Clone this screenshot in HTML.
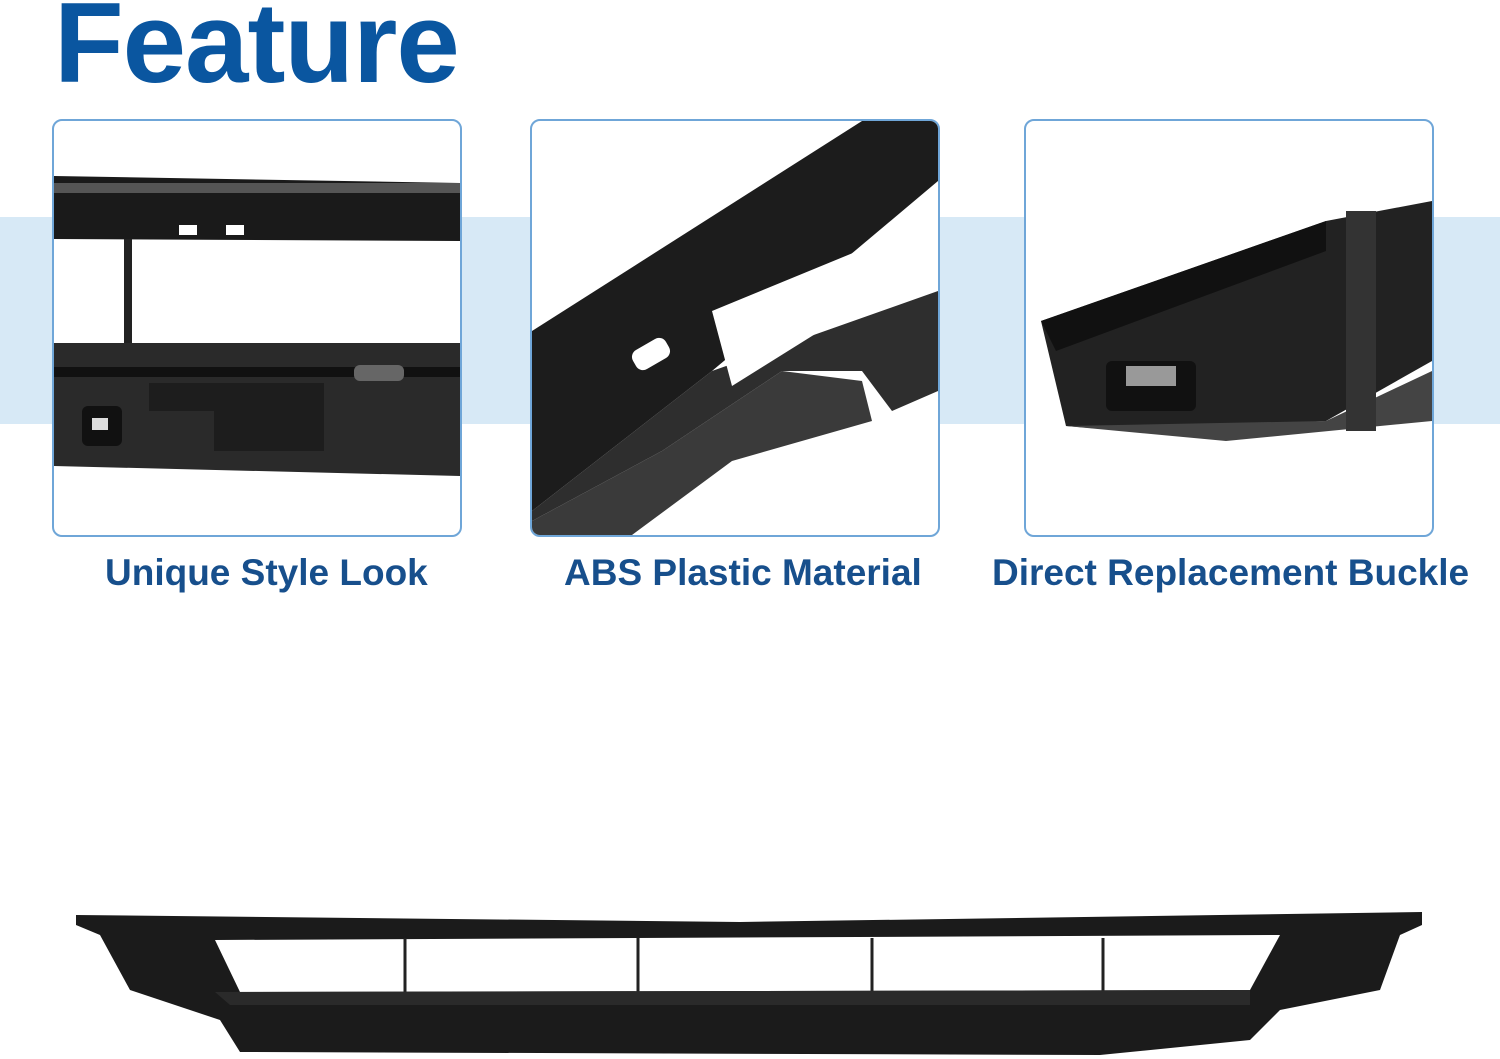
<!DOCTYPE html>
<html><head><meta charset="utf-8"><style>
html,body{margin:0;padding:0;background:#fff}
body{width:1500px;height:1059px;position:relative;overflow:hidden;font-family:"Liberation Sans","DejaVu Sans",sans-serif}
.title{position:absolute;left:54px;top:-22px;font-size:114px;font-weight:bold;color:#0a56a0;letter-spacing:-1px}
.band{position:absolute;left:0;top:217px;width:1500px;height:207px;background:#d7e9f6}
.card{position:absolute;top:119px;width:406px;height:414px;background:#fff;border:2px solid #6fa6d8;border-radius:10px;overflow:hidden}
.lab{position:absolute;top:552px;font-size:37px;font-weight:bold;color:#174f8c;white-space:nowrap}
</style></head><body>
<div class="title">Feature</div>
<div class="band"></div>
<div class="card" style="left:52px">
<svg width="406" height="414">
<polygon points="0,55 406,62 406,120 0,118" fill="#1a1a1a"/>
<rect x="0" y="62" width="406" height="10" fill="#555"/>
<rect x="125" y="104" width="18" height="10" fill="#fff"/><rect x="172" y="104" width="18" height="10" fill="#fff"/>
<rect x="70" y="118" width="8" height="110" fill="#222"/>
<polygon points="0,222 406,222 406,355 0,345" fill="#2a2a2a"/>
<rect x="0" y="246" width="406" height="10" fill="#111"/>
<rect x="300" y="244" width="50" height="16" rx="6" fill="#666"/>
<path d="M95 262 H270 V330 H160 V290 H95 Z" fill="#1d1d1d"/>
<rect x="28" y="285" width="40" height="40" rx="6" fill="#111"/><rect x="38" y="297" width="16" height="12" fill="#ddd"/>
</svg></div>
<div class="card" style="left:530px">
<svg width="406" height="414">
<polygon points="0,210 330,0 406,0 406,60 180,250 0,390" fill="#1c1c1c"/>
<polygon points="0,390 180,250 406,170 406,270 360,290 330,250 250,250 130,330 0,400" fill="#2e2e2e"/>
<polygon points="0,400 130,330 250,250 330,260 340,300 200,340 100,414 0,414" fill="#3a3a3a"/>
<rect x="100" y="222" width="38" height="22" rx="8" fill="#fff" transform="rotate(-30 119 233)"/>
<polygon points="180,190 350,120 360,165 200,265" fill="#fff"/>
</svg></div>
<div class="card" style="left:1024px">
<svg width="406" height="414">
<polygon points="15,200 300,100 406,80 406,240 300,300 100,310 40,305" fill="#222"/>
<polygon points="40,305 300,300 406,250 406,300 200,320" fill="#444"/>
<rect x="320" y="90" width="30" height="220" fill="#333"/>
<rect x="80" y="240" width="90" height="50" rx="6" fill="#111"/><rect x="100" y="245" width="50" height="20" fill="#999"/>
<polygon points="15,200 300,100 300,130 30,230" fill="#111"/>
</svg></div>
<div class="lab" style="left:105px">Unique Style Look</div>
<div class="lab" style="left:564px">ABS Plastic Material</div>
<div class="lab" style="left:992px">Direct Replacement Buckle</div>
<svg style="position:absolute;left:0;top:0" width="1500" height="1059">
<polygon points="76,915 740,922 1422,912 1422,925 1400,935 1380,990 1280,1010 1250,1040 1100,1055 240,1052 220,1020 130,990 100,935 76,925" fill="#1b1b1b"/>
<polygon points="215,940 1280,935 1250,990 240,992" fill="#fff"/>
<g stroke="#222" stroke-width="3"><line x1="405" y1="938" x2="405" y2="995"/><line x1="638" y1="938" x2="638" y2="995"/><line x1="872" y1="938" x2="872" y2="995"/><line x1="1103" y1="938" x2="1103" y2="995"/></g>
<polygon points="215,992 1250,990 1250,1005 230,1005" fill="#2a2a2a"/>
</svg>
</body></html>
